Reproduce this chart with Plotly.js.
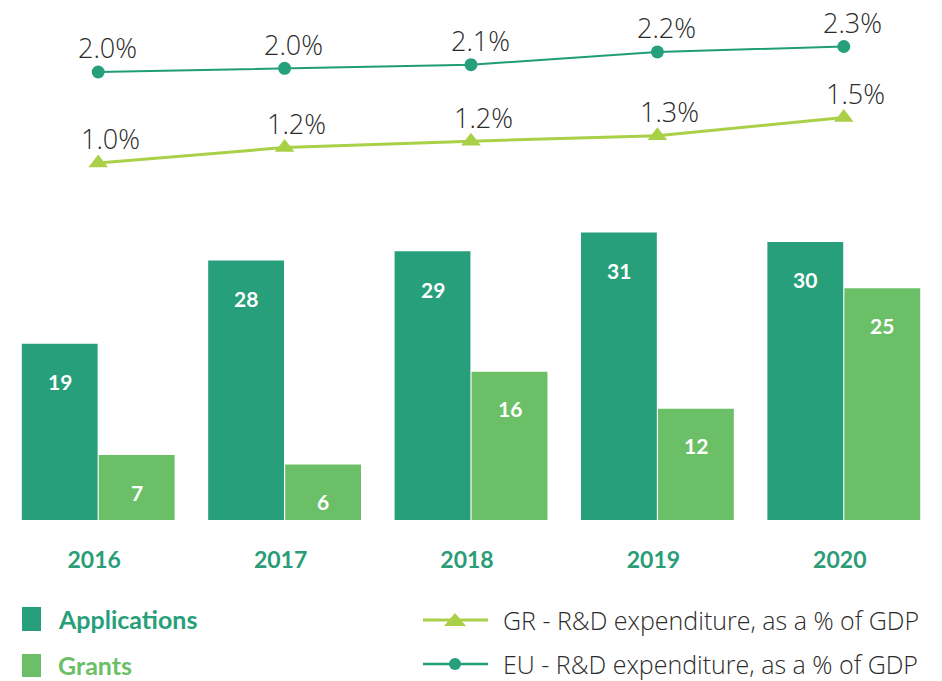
<!DOCTYPE html>
<html>
<head>
<meta charset="utf-8">
<script src="https://cdn.plot.ly/plotly-3.0.1.min.js"></script>
<style>html,body{margin:0;padding:0;background:#fff;}#chart{width:942px;height:681px;}</style>
</head>
<body>
<div id="chart"></div>
<script>
const years = ['2016', '2017', '2018', '2019', '2020'];
const applications = [19, 28, 29, 31, 30];
const grants = [7, 6, 16, 12, 25];
const grRD = [1.00, 1.17, 1.24, 1.30, 1.50];
const euRD = [2.00, 2.04, 2.08, 2.22, 2.28];
const seriesNames = ['Applications', 'Grants', 'GR - R&D expenditure, as a % of GDP', 'EU - R&D expenditure, as a % of GDP'];

const C_APP = '#279f7a', C_GRANT = '#6bbf67', C_GR = '#a9d046', C_EU = '#1f9d77', C_TEXT = '#2b2b2b';
const FONT = '"Open Sans", Lato, sans-serif';
const FONT_B = 'Lato, "Open Sans", sans-serif';

const W = 942, H = 681, ML = 5, MR = 5, MT = 0, MB = 161;
const PW = W - ML - MR, PH = H - MT - MB;
const px = x => (x - ML) / PW;
const py = y => (PH + MT - y) / PH;

const traces = [
  {type: 'bar', x: years, y: applications, name: seriesNames[0], marker: {color: C_APP}, hoverinfo: 'skip'},
  {type: 'bar', x: years, y: grants, name: seriesNames[1], marker: {color: C_GRANT}, hoverinfo: 'skip'},
  {type: 'scatter', mode: 'lines+markers', x: years, y: grRD, yaxis: 'y2', name: seriesNames[2],
   line: {color: C_GR, width: 3}, marker: {symbol: 'triangle-up', size: 17, color: C_GR}, hoverinfo: 'skip'},
  {type: 'scatter', mode: 'lines+markers', x: years, y: euRD, yaxis: 'y2', name: seriesNames[3],
   line: {color: C_EU, width: 2}, marker: {symbol: 'circle', size: 13, color: '#26a07b'}, hoverinfo: 'skip'}
];

const annotations = [];
years.forEach((yr, i) => {
  annotations.push({x: i, y: applications[i], xref: 'x', yref: 'y', text: '<b>' + applications[i] + '</b>',
    showarrow: false, xshift: -38.5, yshift: -38, font: {family: FONT_B, size: 21, color: '#ffffff'}});
  annotations.push({x: i, y: grants[i], xref: 'x', yref: 'y', text: '<b>' + grants[i] + '</b>',
    showarrow: false, xshift: 38.5, yshift: -37, font: {family: FONT_B, size: 21, color: '#ffffff'}});
  annotations.push({x: i, y: euRD[i], xref: 'x', yref: 'y2', text: euRD[i].toFixed(1) + '%',
    showarrow: false, xshift: 9, yshift: 24, font: {family: FONT, size: 27, color: C_TEXT, weight: 300}});
  annotations.push({x: i, y: grRD[i], xref: 'x', yref: 'y2', text: grRD[i].toFixed(1) + '%',
    showarrow: false, xshift: 12, yshift: 24, font: {family: FONT, size: 27, color: C_TEXT, weight: 300}});
});

// manual legend
const shapes = [
  {type: 'rect', xref: 'paper', yref: 'paper', x0: px(22), x1: px(41), y0: py(631), y1: py(607), fillcolor: C_APP, line: {width: 0}},
  {type: 'rect', xref: 'paper', yref: 'paper', x0: px(22), x1: px(41), y0: py(677), y1: py(654), fillcolor: C_GRANT, line: {width: 0}},
  {type: 'line', xref: 'paper', yref: 'paper', x0: px(423), x1: px(488), y0: py(620), y1: py(620), line: {color: C_GR, width: 3}},
  {type: 'path', xref: 'paper', yref: 'paper',
   path: 'M ' + px(444) + ',' + py(626) + ' L ' + px(466) + ',' + py(626) + ' L ' + px(455) + ',' + py(613) + ' Z',
   fillcolor: C_GR, line: {width: 0}},
  {type: 'line', xref: 'paper', yref: 'paper', x0: px(423), x1: px(488), y0: py(664), y1: py(664), line: {color: C_EU, width: 2.5}},
  {type: 'circle', xref: 'paper', yref: 'paper', x0: px(449), x1: px(461), y0: py(670), y1: py(658), fillcolor: '#26a07b', line: {width: 0}}
];
annotations.push({xref: 'paper', yref: 'paper', x: px(56), y: py(619), xanchor: 'left', yanchor: 'middle', showarrow: false,
  text: '<b>' + seriesNames[0] + '</b>', font: {family: FONT_B, size: 25, color: C_APP}});
annotations.push({xref: 'paper', yref: 'paper', x: px(56), y: py(665), xanchor: 'left', yanchor: 'middle', showarrow: false,
  text: '<b>' + seriesNames[1] + '</b>', font: {family: FONT_B, size: 25, color: C_GRANT}});
annotations.push({xref: 'paper', yref: 'paper', x: px(501), y: py(620), xanchor: 'left', yanchor: 'middle', showarrow: false,
  text: seriesNames[2], font: {family: FONT, size: 25, color: C_TEXT, weight: 300}});
annotations.push({xref: 'paper', yref: 'paper', x: px(501), y: py(664), xanchor: 'left', yanchor: 'middle', showarrow: false,
  text: seriesNames[3], font: {family: FONT, size: 25, color: C_TEXT, weight: 300}});

const layout = {
  width: W, height: H,
  margin: {l: ML, r: MR, t: MT, b: MB, pad: 0},
  paper_bgcolor: '#ffffff', plot_bgcolor: '#ffffff',
  showlegend: false,
  barmode: 'group', bargap: 0.174, bargroupgap: 0.015,
  xaxis: {type: 'category', range: [-0.5, 4.5], showgrid: false, zeroline: false, showline: false,
    ticks: 'outside', ticklen: 19, tickcolor: 'rgba(0,0,0,0)', ticklabelshift: -4,
    tickfont: {family: FONT_B, size: 23, color: '#2a9d78', weight: 'bold'}},
  yaxis: {range: [0, 56.09], visible: false, fixedrange: true},
  yaxis2: {overlaying: 'y', range: [-2.923, 2.791], visible: false},
  annotations: annotations,
  shapes: shapes
};

Plotly.newPlot('chart', traces, layout, {displayModeBar: false, staticPlot: true});
</script>
</body>
</html>
